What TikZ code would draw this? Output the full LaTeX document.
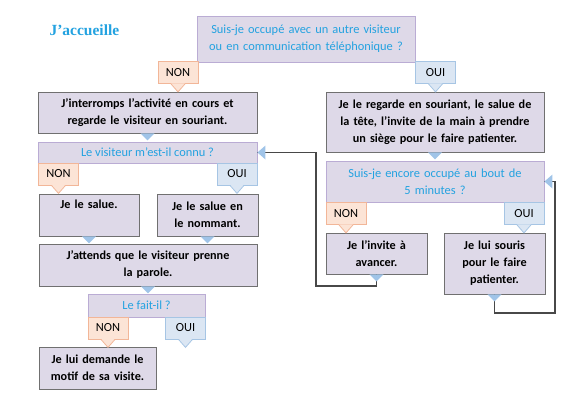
\documentclass[tikz,border=0pt]{standalone}
\usepackage{fontspec}
\setsansfont{Carlito}
\newfontfamily\titlefont{Liberation Serif}
\usepackage{tikz}

\definecolor{boxfill}{RGB}{222,217,232}
\definecolor{boxline}{RGB}{112,112,112}
\definecolor{qline}{RGB}{186,172,212}
\definecolor{qtext}{RGB}{35,162,224}
\definecolor{nonfill}{RGB}{252,228,214}
\definecolor{nonline}{RGB}{242,182,152}
\definecolor{ouifill}{RGB}{219,230,243}
\definecolor{ouiline}{RGB}{166,197,228}
\definecolor{ptrcol}{RGB}{160,196,232}
\definecolor{loopcol}{RGB}{72,72,72}

\tikzset{
  base/.style={font=\sffamily\fontsize{12.4}{17}\selectfont, align=center, inner sep=0pt},
  box/.style={base, draw=boxline, fill=boxfill, line width=0.9pt, font=\sffamily\bfseries\fontsize{12.2}{17}\selectfont},
  quest/.style={base, draw=qline, fill=boxfill, line width=0.9pt, text=qtext},
  lbl/.style={base, minimum width=40pt, minimum height=22pt, line width=0.8pt},
  non/.style={lbl, draw=nonline, fill=nonfill},
  oui/.style={lbl, draw=ouiline, fill=ouifill},
  loopline/.style={draw=loopcol, line width=1.1pt},
}

\begin{document}
\begin{tikzpicture}[x=1pt,y=-1pt]
  \useasboundingbox (0,0) rectangle (571,407);

  \node[text=qtext, font=\titlefont\bfseries\fontsize{15.5}{18}\selectfont, anchor=west] (titre) at (46,30) {J’accueille};

  % questions
  \node[quest, minimum width=218pt, minimum height=46pt, text width=212pt] (q1) at (306,39)
    {Suis-je occupé avec un autre visiteur\\ ou en communication téléphonique ?};
  \node[quest, minimum width=219pt, minimum height=21pt] (q2) at (147.5,152.5) {Le visiteur m’est-il connu ?};
  \node[quest, minimum width=218pt, minimum height=41pt, text width=200pt] (q3) at (435,181.5)
    {Suis-je encore occupé au bout de\\ 5 minutes ?};
  \node[quest, minimum width=117pt, minimum height=23pt] (q4) at (146.5,305.5) {Le fait-il ?};

  % answers
  \node[box, minimum width=219pt, minimum height=41pt, text width=212pt] (a) at (147.5,112.5)
    {J’interromps l’activité en cours et\\ regarde le visiteur en souriant.};
  \node[box, minimum width=218pt, minimum height=60pt, text width=212pt] (b) at (435,122)
    {Je le regarde en souriant, le salue de\\ la tête, l’invite de la main à prendre\\ un siège pour le faire patienter.};
  \node[box, minimum width=100pt, minimum height=42pt, text width=94pt] (c) at (89,215)
    {Je le salue.\\ \strut};
  \node[box, minimum width=101pt, minimum height=42pt, text width=94pt] (d) at (207.5,215)
    {Je le salue en\\ le nommant.};
  \node[box, minimum width=218pt, minimum height=42pt, text width=212pt] (e) at (148,265)
    {J’attends que le visiteur prenne\\ la parole.};
  \node[box, minimum width=117pt, minimum height=42pt, text width=112pt] (f) at (97.5,368)
    {Je lui demande le\\ motif de sa visite.};
  \node[box, minimum width=101pt, minimum height=41pt, text width=94pt] (g) at (376.5,253.5)
    {Je l’invite à\\ avancer.};
  \node[box, minimum width=101pt, minimum height=61pt, text width=94pt] (h) at (494.5,263.5)
    {Je lui souris\\ pour le faire\\ patienter.};

  % NON / OUI
  \node[non] (non1) at (178,72.5) {NON};
  \node[oui] (oui1) at (435.5,72.5) {OUI};
  \node[non] (non2) at (58.5,174) {NON};
  \node[oui] (oui2) at (237,174) {OUI};
  \node[non] (non3) at (346,213.5) {NON};
  \node[oui] (oui3) at (524,213.5) {OUI};
  \node[non] (non4) at (108,328) {NON};
  \node[oui] (oui4) at (185.5,328) {OUI};
  \foreach \n/\c in {non1/non,oui1/oui,non2/non,oui2/oui,non3/non,oui3/oui,non4/non,oui4/oui}{
    \fill[\c fill] (\n.south) +(-7,-0.6) -- +(7,-0.6) -- +(0,8) -- cycle;
    \draw[\c line, line width=0.8pt] (\n.south) +(-7,0) -- +(0,8) -- +(7,0);}

  % back loops
  \coordinate (k1) at (316,286);
  \coordinate (k2) at (555,313);
  \draw[loopline] (g.south) |- (k1) |- (q2.east);
  \draw[loopline] (h.south) |- (k2) |- (q3.east);

  \foreach \n in {a,b,c,d,e,g,h}{\fill[ptrcol] (\n.south) +(-7,0) -- +(7,0) -- +(0,7) -- cycle;}
  \foreach \n in {q2,q3}{\fill[ptrcol] (\n.east) +(0,0) -- +(8,-7) -- +(8,7) -- cycle;}
\end{tikzpicture}
\end{document}
